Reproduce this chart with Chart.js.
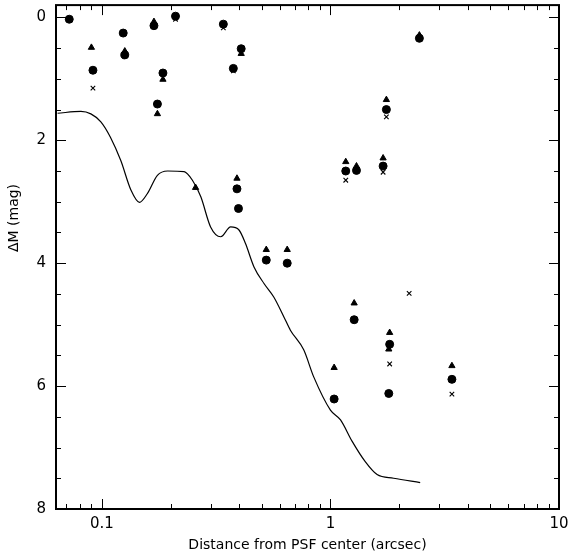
<!DOCTYPE html>
<html>
<head>
<meta charset="utf-8">
<script src="https://cdn.jsdelivr.net/npm/chart.js@4.4.1/dist/chart.umd.min.js"></script>
<style>
  html, body { margin: 0; padding: 0; background: #fff; }
  #wrap { width: 577px; height: 556px; }
</style>
</head>
<body>
<div id="wrap"><canvas id="chart"></canvas></div>
<script>
// filled circles
const circleX = [0.072, 0.0914, 0.124, 0.126, 0.169, 0.175, 0.185, 0.21, 0.34, 0.376, 0.407, 0.39, 0.396, 0.524, 0.647, 1.167, 1.30, 1.70, 1.757, 2.45, 1.038, 1.27, 1.816, 1.80, 3.40];
const circleY = [0.03, 0.86, 0.255, 0.61, 0.135, 1.41, 0.905, -0.02, 0.11, 0.83, 0.51, 2.79, 3.11, 3.95, 4.0, 2.50, 2.49, 2.42, 1.50, 0.34, 6.21, 4.92, 5.32, 6.12, 5.89];
// filled triangles
const triX = [0.090, 0.126, 0.169, 0.175, 0.185, 0.257, 0.407, 0.39, 0.524, 0.647, 1.167, 1.30, 1.70, 1.757, 2.45, 1.27, 1.816, 1.80, 1.038, 3.40];
const triY = [0.49, 0.55, 0.07, 1.57, 1.01, 2.77, 0.59, 2.62, 3.78, 3.78, 2.35, 2.42, 2.29, 1.34, 0.29, 4.65, 5.13, 5.40, 5.70, 5.67];
// crosses
const crossX = [0.0914, 0.21, 0.34, 0.376, 1.167, 1.70, 1.757, 2.21, 1.816, 3.40];
const crossY = [1.15, 0.03, 0.17, 0.87, 2.65, 2.52, 1.62, 4.49, 5.64, 6.13];
// detection limit curve
const curveX = [0.064, 0.081, 0.0895, 0.099, 0.109, 0.121, 0.134, 0.146, 0.158, 0.175, 0.194, 0.229, 0.249, 0.271, 0.299, 0.331, 0.366, 0.398, 0.425, 0.463, 0.512, 0.565, 0.625, 0.668, 0.764, 0.845, 1.0, 1.107, 1.245, 1.42, 1.60, 1.89, 2.47];
const curveY = [1.56, 1.53, 1.57, 1.70, 1.95, 2.33, 2.81, 3.01, 2.87, 2.57, 2.50, 2.51, 2.65, 2.92, 3.41, 3.57, 3.41, 3.46, 3.68, 4.06, 4.33, 4.55, 4.87, 5.09, 5.41, 5.85, 6.39, 6.55, 6.9, 7.23, 7.44, 7.50, 7.57];

const xMajor = [0.1, 1, 10];
const xLabels = ['0.1', '1', '10'];
const xMinor = [0.07, 0.08, 0.09, 0.2, 0.3, 0.4, 0.5, 0.6, 0.7, 0.8, 0.9, 2, 3, 4, 5, 6, 7, 8, 9];
const yMajor = [0, 2, 4, 6, 8];
const yMinor = [0.5, 1, 1.5, 2.5, 3, 3.5, 4.5, 5, 5.5, 6.5, 7, 7.5];

const pts = (xs, ys) => xs.map((x, i) => ({ x: x, y: ys[i] }));

// inward ticks on all four sides, plus frame and y title
const frameTicks = {
  id: 'frameTicks',
  afterDraw(chart) {
    const ctx = chart.ctx;
    const a = chart.chartArea;
    const xs = chart.scales.x, ys = chart.scales.y;
    ctx.save();
    ctx.strokeStyle = '#000';
    ctx.lineWidth = 1;
    ctx.beginPath();
    const tx = (v, len) => {
      const p = Math.round(xs.getPixelForValue(v)) + 0.5;
      ctx.moveTo(p, a.bottom); ctx.lineTo(p, a.bottom - len);
      ctx.moveTo(p, a.top); ctx.lineTo(p, a.top + len);
    };
    const ty = (v, len) => {
      const p = Math.round(ys.getPixelForValue(v)) + 0.5;
      ctx.moveTo(a.left, p); ctx.lineTo(a.left + len, p);
      ctx.moveTo(a.right, p); ctx.lineTo(a.right - len, p);
    };
    xMajor.forEach(v => tx(v, 10));
    xMinor.forEach(v => tx(v, 5));
    yMajor.forEach(v => ty(v, 10));
    yMinor.forEach(v => ty(v, 5));
    ctx.stroke();
    ctx.lineWidth = 2;
    ctx.strokeRect(a.left, a.top, a.right - a.left, a.bottom - a.top);
    ctx.translate(14, 218);
    ctx.rotate(-Math.PI / 2);
    ctx.fillStyle = '#000';
    ctx.font = '14px "DejaVu Sans"';
    ctx.textAlign = 'center';
    ctx.textBaseline = 'middle';
    ctx.fillText('\u0394M (mag)', 0, 0);
    ctx.restore();
  }
};

new Chart(document.getElementById('chart'), {
  type: 'scatter',
  data: {
    datasets: [
      {
        label: 'limit',
        data: pts(curveX, curveY),
        showLine: true,
        borderColor: '#000',
        borderWidth: 1.2,
        pointRadius: 0,
        cubicInterpolationMode: 'monotone',
        fill: false
      },
      {
        label: 'circles',
        data: pts(circleX, circleY),
        pointStyle: 'circle',
        pointRadius: 4,
        borderWidth: 1,
        backgroundColor: '#000',
        borderColor: '#000'
      },
      {
        label: 'triangles',
        data: pts(triX, triY),
        pointStyle: 'triangle',
        pointRadius: 3.6,
        borderWidth: 1,
        backgroundColor: '#000',
        borderColor: '#000'
      },
      {
        label: 'crosses',
        data: pts(crossX, crossY),
        pointStyle: 'crossRot',
        pointRadius: 3.2,
        borderWidth: 1.1,
        borderColor: '#000'
      }
    ]
  },
  options: {
    responsive: true,
    maintainAspectRatio: false,
    animation: false,
    layout: { padding: { top: 5, right: 18, bottom: 0, left: 0 } },
    plugins: { legend: { display: false }, tooltip: { enabled: false } },
    scales: {
      x: {
        type: 'logarithmic',
        min: 0.063,
        max: 10,
        grid: { display: false, drawTicks: false },
        border: { display: false },
        afterBuildTicks: s => { s.ticks = xMajor.map(v => ({ value: v })); },
        afterFit: s => { s.height = 47; s.paddingLeft = 0; s.paddingRight = 0; },
        ticks: {
          autoSkip: false,
          maxRotation: 0,
          padding: 6,
          color: '#000',
          font: { family: 'DejaVu Sans', size: 15 },
          callback: (v, i) => xLabels[i]
        },
        title: {
          display: true,
          text: 'Distance from PSF center (arcsec)',
          color: '#000',
          font: { family: 'DejaVu Sans', size: 14 },
          padding: { top: 0, bottom: 2 }
        }
      },
      y: {
        reverse: true,
        min: -0.2,
        max: 8,
        grid: { display: false, drawTicks: false },
        border: { display: false },
        afterBuildTicks: s => { s.ticks = yMajor.map(v => ({ value: v })); },
        afterFit: s => { s.width = 56; s.paddingTop = 0; s.paddingBottom = 0; },
        ticks: {
          autoSkip: false,
          padding: 10,
          color: '#000',
          font: { family: 'DejaVu Sans', size: 15 },
          callback: v => String(v)
        }
      }
    }
  },
  plugins: [frameTicks]
});
</script>
</body>
</html>
